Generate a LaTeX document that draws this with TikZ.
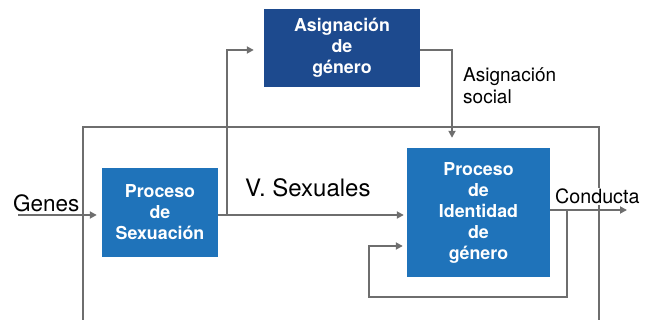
\documentclass[tikz,border=0pt]{standalone}
\usepackage{fontspec}
\setmainfont{TeX Gyre Heros}
\usetikzlibrary{arrows.meta}
\definecolor{lightblue}{HTML}{1F73BA}
\definecolor{darkblue}{HTML}{1D4A8E}
\definecolor{linegray}{HTML}{6E6E6E}
\tikzset{
  procbox/.style={fill=lightblue, inner sep=0pt, align=center, text=white,
    font=\fontsize{17.8}{21}\selectfont\bfseries},
  asigbox/.style={procbox, fill=darkblue},
  conn/.style={draw=linegray, line width=1.8pt},
  arr/.style={conn, -{Triangle[length=7pt,width=7pt]}},
  lbl/.style={inner sep=0pt, font=\fontsize{19.7}{22}\selectfont}
}
\begin{document}
\begin{tikzpicture}[x=1pt,y=-1pt]
\useasboundingbox (0,0) rectangle (650,320);
% outer frame
\coordinate (fbl) at (83,330);
\coordinate (ftr) at (599,127);
\coordinate (fbr) at (599,330);
\draw[conn] (fbl) |- (ftr) -- (fbr);
% boxes
\node[asigbox, minimum width=156pt, minimum height=78pt] (asig) at (342,48) {Asignación\\de\\género};
\node[procbox, minimum width=116pt, minimum height=89pt] (sex) at (160,212.5) {Proceso\\de\\Sexuación};
\node[procbox, minimum width=143pt, minimum height=129pt] (ident) at (478.5,212.5) {Proceso\\de\\Identidad\\de\\género};
% coordinates
\coordinate (gs) at (18,215);
\coordinate (sexout) at (218,215);
\coordinate (br) at (227,215);
\coordinate (up) at (227,50);
\coordinate (asigout) at (420,50);
\coordinate (down) at (452,50);
\coordinate (idout) at (550,210);
\coordinate (condend) at (627,210);
\coordinate (fb1) at (567,210);
\coordinate (fb2) at (369,297);
\coordinate (fb3) at (369,246);
% connectors
\draw[arr, shorten >=5pt] (gs) -- (sex.west |- gs);
\draw[arr, shorten >=3pt] (sexout) -- (ident.west |- sexout);
\draw[arr, shorten >=10pt] (br) -- (up) -- (asig.west |- up);
\draw[arr, shorten >=10pt] (asigout) -- (down) -- (down |- ident.north);
\node[lbl, fill=white, inner sep=1pt, anchor=base west] (cond) at (554,204) {Conducta};
\draw[arr] (idout) -- (condend);
\draw[arr, shorten >=4pt] (fb1) |- (fb2) -- (fb3) -- (ident.west |- fb3);
% labels
\node[lbl, font=\fontsize{22.5}{24}\selectfont, anchor=base west] (genes) at (13,212) {Genes};
\node[lbl, font=\fontsize{24}{26}\selectfont, anchor=base west] (vsex) at (245,197) {V. Sexuales};
\node[lbl, anchor=north west, align=left, font=\fontsize{19}{22}\selectfont] (asoc) at (463,67) {Asignación\\social};
\end{tikzpicture}
\end{document}
